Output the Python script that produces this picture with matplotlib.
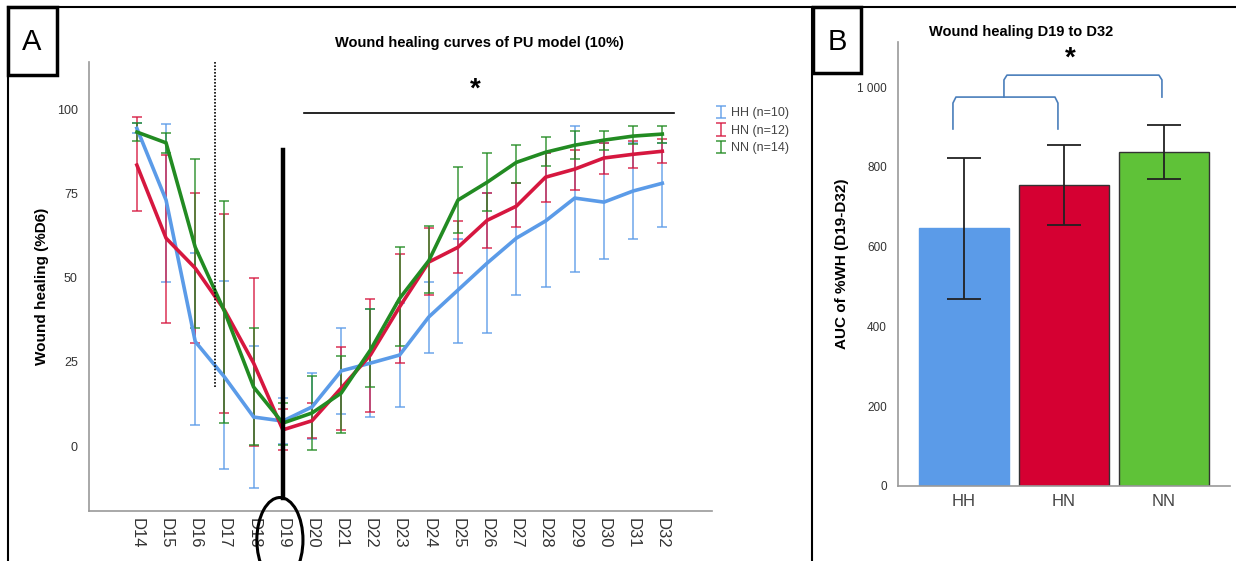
import numpy as np
import matplotlib.pyplot as plt
from matplotlib.patches import Ellipse, Rectangle
from matplotlib.lines import Line2D

plt.rcParams['font.family'] = ['Liberation Sans', 'DejaVu Sans']

# Panel A data: mean and error bar ends
days = ['D%d' % d for d in range(14, 33)]

hh_mean = [94.3, 73, 31, 20.5, 8.6, 7.4, 11.6, 22.3, 24.6, 27, 38.3, 46.3, 54.3, 61.7, 66.8, 73.6, 72.4, 75.7, 78]
hh_up = [96, 95.5, 57.3, 49, 29.7, 14.2, 21.7, 35, 40.6, 42.4, 48.7, 61.4, 75, 78, 87, 95, 90, 90, 90]
hh_lo = [92.9, 48.7, 6.2, -6.8, -12.5, 0.5, 2, 9.5, 8.6, 11.6, 27.6, 30.6, 33.5, 44.8, 47.3, 51.7, 55.4, 61.4, 65]

hn_mean = [83.4, 61.7, 52.8, 40.4, 24.6, 4.8, 7.5, 17.2, 27, 41.3, 54.6, 59, 67, 71.2, 79.8, 82.2, 85.5, 86.6, 87.5]
hn_up = [97.6, 86.4, 75, 68.8, 49.8, 11, 12.7, 29.4, 43.6, 57, 64.7, 66.8, 75, 78, 87, 88, 90, 90.5, 91]
hn_lo = [69.7, 36.5, 30.6, 9.8, 0, -1.2, 2.4, 4.7, 10, 24.6, 44.8, 51.3, 58.8, 65, 72.4, 76, 80.7, 82.5, 84]

nn_mean = [93.2, 90, 59, 40, 17.5, 6.8, 9.8, 15.7, 28.5, 43.8, 55, 73, 78.3, 84.2, 87.2, 89.3, 90.8, 92, 92.6]
nn_up = [95.8, 92.9, 85.2, 72.7, 35, 12.7, 20.8, 26.7, 40.6, 59, 65.3, 82.8, 87, 89.3, 91.7, 93.5, 93.5, 95, 95]
nn_lo = [90.5, 87, 35, 6.8, 0.3, 0.3, -1.2, 3.8, 17.5, 29.7, 45.4, 63.3, 69.7, 78, 83, 85.2, 87.8, 89.6, 90]

# Panel B data
groups = ['HH', 'HN', 'NN']
auc_mean = [647, 754, 837]
auc_up = [822, 855, 905]
auc_lo = [469, 654, 769]

c_hh = '#5b9be8'
c_hn = '#d6173f'
c_nn = '#228b22'

fig = plt.figure(figsize=(12.36, 5.61), dpi=100)

# ---------- panel A ----------
ax = fig.add_axes([0.072, 0.0891, 0.504, 0.8004])
x = np.arange(len(days))
series = [(hh_mean, hh_up, hh_lo, c_hh, 'HH (n=10)'),
          (hn_mean, hn_up, hn_lo, c_hn, 'HN (n=12)'),
          (nn_mean, nn_up, nn_lo, c_nn, 'NN (n=14)')]
leg_handles = []
for m, up, lo, col, lab in series:
    m = np.array(m)
    yerr = [m - np.array(lo), np.array(up) - m]
    eb = ax.errorbar(x, m, yerr=yerr, fmt='none', ecolor=col, elinewidth=1.3,
                     capsize=3.5, capthick=1.3, alpha=0.75, zorder=2)
    leg_handles.append(eb)
    ax.plot(x, m, color=col, lw=2.6, zorder=3, solid_joinstyle='miter')

ax.set_xlim(-1.64, 19.7)
ax.set_ylim(-19.3, 114)
ax.set_xticks(x)
ax.set_xticklabels(days, rotation=-90, fontsize=12, color='#333333')
ax.set_yticks([0, 25, 50, 75, 100])
ax.tick_params(axis='y', length=0, labelsize=9, labelcolor='#333333', pad=8)
ax.tick_params(axis='x', length=0, pad=5)
for s in ['top', 'right']:
    ax.spines[s].set_visible(False)
for s in ['left', 'bottom']:
    ax.spines[s].set_color('#999999')
    ax.spines[s].set_linewidth(1.2)
ax.set_ylabel('Wound healing (%D6)', fontsize=11, fontweight='bold', labelpad=6)
ax.set_title('Wound healing curves of PU model (10%)', fontsize=10.5,
             fontweight='bold', x=0.627, y=1.015)

# dotted and thick lines, significance bar
ax.plot([2.67, 2.67], [17.5, 114], color='black', lw=1.2, ls=(0, (1, 1)), zorder=4)
ax.plot([5, 5], [-15.5, 88], color='black', lw=3.2, zorder=5, clip_on=False)
ax.add_patch(Ellipse((4.9, -27.9), 1.58, 25.2, fill=False, ec='black', lw=2.2,
                     clip_on=False, zorder=5))
ax.plot([5.72, 18.4], [98.8, 98.8], color='black', lw=1.2)
ax.text(11.6, 102, '*', fontsize=20, ha='center', va='bottom', fontweight='bold')

ax.legend(leg_handles, ['HH (n=10)', 'HN (n=12)', 'NN (n=14)'], loc='upper left',
          bbox_to_anchor=(0.99, 0.925), frameon=False, fontsize=9,
          handlelength=0.6, handleheight=0.55, handletextpad=0.5,
          labelspacing=0.45, labelcolor='#444444')

# ---------- panel B ----------
bx = fig.add_axes([0.7265, 0.1337, 0.2686, 0.7914])
xb = np.arange(len(groups))
bx.bar(xb, auc_mean, width=0.9, color=[c_hh, '#d50032', '#5fc238'],
       edgecolor=['#5b9be8', '#333333', '#333333'], linewidth=1.0, zorder=2)
am = np.array(auc_mean)
bx.errorbar(xb, am, yerr=[am - np.array(auc_lo), np.array(auc_up) - am],
            fmt='none', ecolor='#222222', elinewidth=1.3, capsize=12,
            capthick=1.3, zorder=3)
bx.set_xlim(-0.66, 2.66)
bx.set_ylim(0, 1113)
bx.set_yticks([0, 200, 400, 600, 800, 1000])
bx.set_yticklabels(['0', '200', '400', '600', '800', '1 000'])
bx.set_xticks(xb)
bx.set_xticklabels(groups, fontsize=12, color='#444444')
bx.tick_params(axis='y', length=0, labelsize=8.5, labelcolor='#333333', pad=8)
bx.tick_params(axis='x', length=0, pad=6)
for s in ['top', 'right']:
    bx.spines[s].set_visible(False)
for s in ['left', 'bottom']:
    bx.spines[s].set_color('#999999')
    bx.spines[s].set_linewidth(1.2)
bx.set_ylabel('AUC of %WH (D19-D32)', fontsize=11, fontweight='bold', labelpad=6)
bx.set_title('Wound healing D19 to D32', fontsize=10.5, fontweight='bold',
             x=0.37, y=0.995)

# brackets
bc = '#4a7ebb'
bx.plot([-0.11, -0.11, -0.08, 0.91, 0.94, 0.94], [895, 960, 975, 975, 960, 895],
        color=bc, lw=1.2)
bx.plot([0.40, 0.40, 0.43, 1.95, 1.98, 1.98], [975, 1018, 1030, 1030, 1018, 975],
        color=bc, lw=1.2)
bx.text(1.06, 1040, '*', fontsize=20, ha='center', va='bottom', fontweight='bold',
        clip_on=False)

# ---------- frame and panel boxes ----------
def fx(px):
    return px / 1236

def fy(py):
    return 1 - py / 561

fig.add_artist(Line2D([fx(8), fx(1236)], [fy(7), fy(7)], color='black', lw=1.5))
fig.add_artist(Line2D([fx(8), fx(8)], [fy(7), fy(561)], color='black', lw=1.5))
fig.add_artist(Line2D([fx(812), fx(812)], [fy(7), fy(561)], color='black', lw=1.5))
fig.add_artist(Rectangle((fx(8), fy(75)), fx(49), 68 / 561, fill=False,
                         ec='black', lw=2.5))
fig.add_artist(Rectangle((fx(813), fy(73)), fx(48), 66 / 561, fill=False,
                         ec='black', lw=2.5))
fig.text(fx(32), fy(42), 'A', fontsize=21, ha='center', va='center')
fig.text(fx(837), fy(42), 'B', fontsize=21, ha='center', va='center')

fig.savefig('out.png', dpi=100)
